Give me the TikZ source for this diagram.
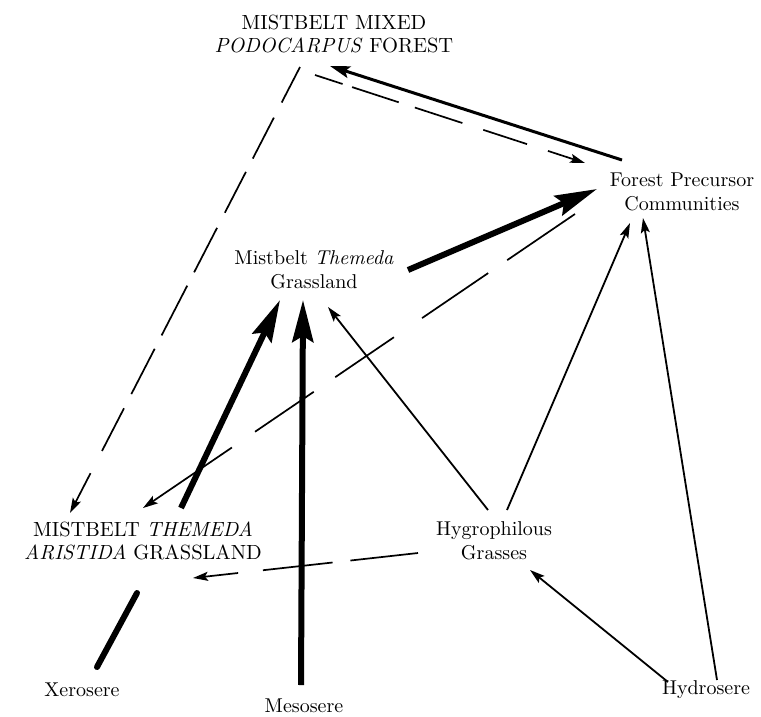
\documentclass[tikz,border=0pt]{standalone}
\usepackage{fontspec}
\setmainfont{lmroman10-regular.otf}[ItalicFont=lmroman10-italic.otf,BoldFont=lmroman10-bold.otf]
\usetikzlibrary{arrows.meta}
\begin{document}
\begin{tikzpicture}[x=1pt,y=-1pt,
  lbl/.style={align=center,inner sep=0pt,font=\fontsize{20}{24}\selectfont},
  capl/.style={align=center,inner sep=0pt,font=\fontsize{20.5}{23}\selectfont},
  thinarr/.style={line width=1.8pt,-{Stealth[length=15pt,width=9pt,inset=3pt]}},
  dasharr/.style={line width=1.7pt,-{Stealth[length=15pt,width=9pt,inset=3pt]}},
  thickarr/.style={line width=6pt,-{Stealth[length=42pt,width=21pt,inset=6pt]}},
  medarr/.style={line width=3pt,-{Stealth[length=20pt,width=12pt,inset=4pt]}},
  thickline/.style={line width=6pt,line cap=round}]
\useasboundingbox (0,0) rectangle (761,716);
\fill[white] (0,0) rectangle (761,716);

\node[capl] (pod) at (334,34) {MISTBELT MIXED\\\textit{PODOCARPUS} FOREST};
\node[lbl] (fp) at (682,192) {Forest Precursor\\Communities};
\node[lbl] (mtg) at (314,270) {Mistbelt \textit{Themeda}\\Grassland};
\node[capl] (mtag) at (143,541) {MISTBELT \textit{THEMEDA}\\\textit{ARISTIDA} GRASSLAND};
\node[lbl] (hyg) at (494,541) {Hygrophilous\\Grasses};
\node[lbl] (xer) at (82,690) {Xerosere};
\node[lbl] (mes) at (304,706) {Mesosere};
\node[lbl] (hyd) at (706,690) {Hydrosere};

% forest precursor -> podocarpus (solid)
\draw[medarr] ([shift={(-60,-32)}]fp.center) -- ([shift={(-4,32)}]pod.center);
% podocarpus -> forest precursor (dashed)
\draw[dasharr,dash pattern=on 29pt off 10pt on 49pt off 17pt on 50pt off 22pt on 46pt off 22pt on 200pt]
  ([shift={(-19,41)}]pod.center) -- ([shift={(-97,-29)}]fp.center);
% podocarpus -> MTA grassland (dashed)
\draw[dasharr,dash pattern=on 40pt off 17pt on 46pt off 15pt on 46pt off 17pt on 50pt off 15pt on 56pt off 15pt on 51pt off 16pt on 48pt off 25pt on 200pt]
  ([shift={(-34,33)}]pod.center) -- ([shift={(-73,-28)}]mtag.center);
% mistbelt themeda -> forest precursor (thick)
\draw[thickarr] ([shift={(94,0)}]mtg.center) -- ([shift={(-85,-3)}]fp.center);
% forest precursor -> MTA grassland (dashed)
\draw[dasharr,dash pattern=on 82pt off 23pt on 80pt off 34pt on 71pt off 26pt on 71pt off 28pt on 300pt]
  ([shift={(-107,22)}]fp.center) -- ([shift={(0,-33)}]mtag.center);
% MTA grassland -> mistbelt themeda (thick)
\draw[thickarr] ([shift={(38,-33)}]mtag.center) -- ([shift={(-34,30)}]mtg.center);
% mesosere -> mistbelt themeda (thick)
\draw[thickarr] ([shift={(-3,-21)}]mes.center) -- ([shift={(-11,30)}]mtg.center);
% hygrophilous -> mistbelt themeda
\draw[thinarr] ([shift={(-6,-31)}]hyg.center) -- ([shift={(14,37)}]mtg.center);
% hygrophilous -> forest precursor
\draw[thinarr] ([shift={(13,-31)}]hyg.center) -- ([shift={(-52,31)}]fp.center);
% hydrosere -> forest precursor
\draw[thinarr] ([shift={(11,-10)}]hyd.center) -- ([shift={(-39,26)}]fp.center);
% hydrosere -> hygrophilous
\draw[thinarr] ([shift={(-38,-8)}]hyd.center) -- ([shift={(36,29)}]hyg.center);
% hygrophilous -> MTA grassland (dashed)
\draw[dasharr,dash pattern=on 68pt off 18pt on 70pt off 25pt on 200pt]
  ([shift={(-76,12)}]hyg.center) -- ([shift={(50,37)}]mtag.center);
% xerosere -- MTA grassland
\draw[thickline] ([shift={(15,-23)}]xer.center) -- ([shift={(-6,52)}]mtag.center);
\end{tikzpicture}
\end{document}
